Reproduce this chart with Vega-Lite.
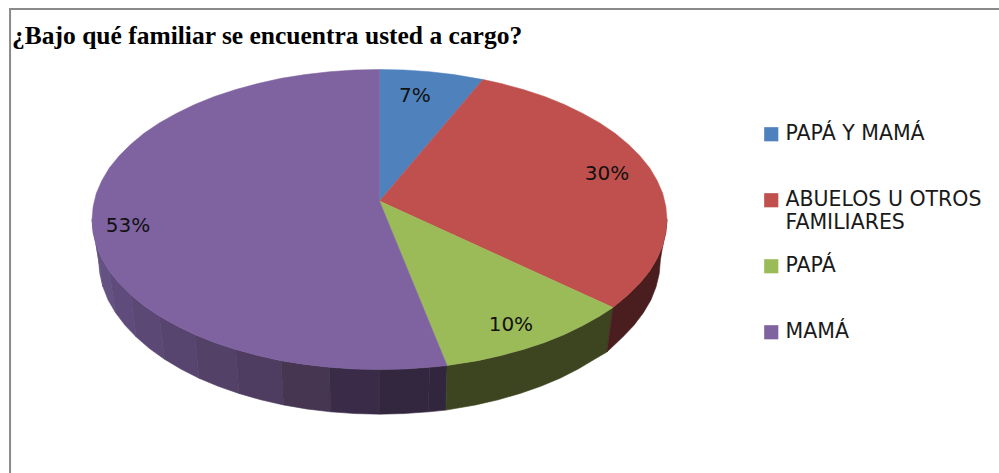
{"$schema":"https://vega.github.io/schema/vega-lite/v6.json","width":999,"height":473,"padding":0,"autosize":{"type":"none"},"background":"white","view":{"stroke":null},
"title":{"text":"¿Bajo qué familiar se encuentra usted a cargo?","anchor":"start","frame":"group","orient":"top","offset":0,"dx":12,"dy":69,"baseline":"alphabetic","font":"Liberation Serif","fontWeight":"bold","fontSize":25.5,"color":"#000000"},
"projection":{"type":"identity","reflectY":true,"scale":287.5,"translate":[379.5,219.5]},
"datasets":{
"marco":[{"type":"Feature","properties":{"nombre":"marco"},"geometry":{"type":"LineString","coordinates":[[-1.285,-0.882],[-1.285,0.732],[2.155,0.732]]}}],
"pared":[
{"type":"Feature","properties":{"tramo":"p00"},"geometry":{"type":"Polygon","coordinates":[[[-1,0],[-0.996,-0.045],[-0.985,-0.091],[-0.962,-0.234],[-0.973,-0.188],[-0.977,-0.141],[-1,0]]]}},
{"type":"Feature","properties":{"tramo":"p01"},"geometry":{"type":"Polygon","coordinates":[[[-0.985,-0.091],[-0.966,-0.135],[-0.94,-0.179],[-0.918,-0.324],[-0.944,-0.28],[-0.962,-0.234],[-0.985,-0.091]]]}},
{"type":"Feature","properties":{"tramo":"p02"},"geometry":{"type":"Polygon","coordinates":[[[-0.94,-0.179],[-0.906,-0.221],[-0.866,-0.261],[-0.846,-0.409],[-0.885,-0.368],[-0.918,-0.324],[-0.94,-0.179]]]}},
{"type":"Feature","properties":{"tramo":"p03"},"geometry":{"type":"Polygon","coordinates":[[[-0.866,-0.261],[-0.819,-0.3],[-0.766,-0.336],[-0.748,-0.486],[-0.8,-0.449],[-0.846,-0.409],[-0.866,-0.261]]]}},
{"type":"Feature","properties":{"tramo":"p04"},"geometry":{"type":"Polygon","coordinates":[[[-0.766,-0.336],[-0.707,-0.369],[-0.643,-0.4],[-0.628,-0.552],[-0.691,-0.52],[-0.748,-0.486],[-0.766,-0.336]]]}},
{"type":"Feature","properties":{"tramo":"p05"},"geometry":{"type":"Polygon","coordinates":[[[-0.643,-0.4],[-0.574,-0.428],[-0.5,-0.452],[-0.489,-0.605],[-0.561,-0.58],[-0.628,-0.552],[-0.643,-0.4]]]}},
{"type":"Feature","properties":{"tramo":"p06"},"geometry":{"type":"Polygon","coordinates":[[[-0.5,-0.452],[-0.423,-0.473],[-0.342,-0.491],[-0.334,-0.645],[-0.413,-0.627],[-0.489,-0.605],[-0.5,-0.452]]]}},
{"type":"Feature","properties":{"tramo":"p07"},"geometry":{"type":"Polygon","coordinates":[[[-0.342,-0.491],[-0.259,-0.504],[-0.174,-0.514],[-0.17,-0.669],[-0.253,-0.659],[-0.334,-0.645],[-0.342,-0.491]]]}},
{"type":"Feature","properties":{"tramo":"p08"},"geometry":{"type":"Polygon","coordinates":[[[-0.174,-0.514],[-0.087,-0.52],[0,-0.522],[0,-0.677],[-0.085,-0.675],[-0.17,-0.669],[-0.174,-0.514]]]}},
{"type":"Feature","properties":{"tramo":"p09"},"geometry":{"type":"Polygon","coordinates":[[[0,-0.522],[0.087,-0.52],[0.174,-0.514],[0.17,-0.669],[0.085,-0.675],[0,-0.677],[0,-0.522]]]}},
{"type":"Feature","properties":{"tramo":"p10"},"geometry":{"type":"Polygon","coordinates":[[[0.174,-0.514],[0.235,-0.508],[0.231,-0.663],[0.17,-0.669],[0.174,-0.514]]]}},
{"type":"Feature","properties":{"tramo":"verde"},"geometry":{"type":"Polygon","coordinates":[[[0.235,-0.508],[0.342,-0.491],[0.423,-0.473],[0.5,-0.452],[0.574,-0.428],[0.643,-0.4],[0.707,-0.369],[0.766,-0.336],[0.812,-0.306],[0.791,-0.461],[0.748,-0.486],[0.691,-0.52],[0.628,-0.552],[0.561,-0.58],[0.489,-0.605],[0.413,-0.627],[0.334,-0.645],[0.231,-0.663],[0.235,-0.508]]]}},
{"type":"Feature","properties":{"tramo":"rojo"},"geometry":{"type":"Polygon","coordinates":[[[0.812,-0.306],[0.866,-0.261],[0.906,-0.221],[0.94,-0.179],[0.966,-0.135],[0.985,-0.091],[0.996,-0.045],[1,0],[0.977,-0.141],[0.973,-0.188],[0.962,-0.234],[0.944,-0.28],[0.918,-0.324],[0.885,-0.368],[0.846,-0.409],[0.791,-0.461],[0.812,-0.306]]]}}
],
"cara":[
{"type":"Feature","properties":{"familiar":"PAPÁ Y MAMÁ","porcentaje":7},"geometry":{"type":"Polygon","coordinates":[[[0,0.064],[0,0.522],[0.087,0.52],[0.174,0.514],[0.259,0.504],[0.36,0.487],[0,0.064]]]}},
{"type":"Feature","properties":{"familiar":"ABUELOS U OTROS FAMILIARES","porcentaje":30},"geometry":{"type":"Polygon","coordinates":[[[0,0.064],[0.36,0.487],[0.423,0.473],[0.5,0.452],[0.574,0.428],[0.643,0.4],[0.707,0.369],[0.766,0.336],[0.819,0.3],[0.866,0.261],[0.906,0.221],[0.94,0.179],[0.966,0.135],[0.985,0.091],[0.996,0.045],[1,0],[0.996,-0.045],[0.985,-0.091],[0.966,-0.135],[0.94,-0.179],[0.906,-0.221],[0.866,-0.261],[0.812,-0.306],[0,0.064]]]}},
{"type":"Feature","properties":{"familiar":"PAPÁ","porcentaje":10},"geometry":{"type":"Polygon","coordinates":[[[0,0.064],[0.812,-0.306],[0.766,-0.336],[0.707,-0.369],[0.643,-0.4],[0.574,-0.428],[0.5,-0.452],[0.423,-0.473],[0.342,-0.491],[0.235,-0.508],[0,0.064]]]}},
{"type":"Feature","properties":{"familiar":"MAMÁ","porcentaje":53},"geometry":{"type":"Polygon","coordinates":[[[0,0.064],[0.235,-0.508],[0.174,-0.514],[0.087,-0.52],[0,-0.522],[-0.087,-0.52],[-0.174,-0.514],[-0.259,-0.504],[-0.342,-0.491],[-0.423,-0.473],[-0.5,-0.452],[-0.574,-0.428],[-0.643,-0.4],[-0.707,-0.369],[-0.766,-0.336],[-0.819,-0.3],[-0.866,-0.261],[-0.906,-0.221],[-0.94,-0.179],[-0.966,-0.135],[-0.985,-0.091],[-0.996,-0.045],[-1,0],[-0.996,0.045],[-0.985,0.091],[-0.966,0.135],[-0.94,0.179],[-0.906,0.221],[-0.866,0.261],[-0.819,0.3],[-0.766,0.336],[-0.707,0.369],[-0.643,0.4],[-0.574,0.428],[-0.5,0.452],[-0.423,0.473],[-0.342,0.491],[-0.259,0.504],[-0.174,0.514],[-0.087,0.52],[0,0.522],[0,0.064]]]}}
],
"etiquetas":[
{"familiar":"PAPÁ Y MAMÁ","etiqueta":"7%","lon":0.123,"lat":0.43},
{"familiar":"ABUELOS U OTROS FAMILIARES","etiqueta":"30%","lon":0.791,"lat":0.158},
{"familiar":"PAPÁ","etiqueta":"10%","lon":0.457,"lat":-0.367},
{"familiar":"MAMÁ","etiqueta":"53%","lon":-0.875,"lat":-0.023}
]},
"layer":[
{"data":{"name":"marco"},"mark":{"type":"geoshape","filled":false,"stroke":"#8a8a8a","strokeWidth":2}},
{"data":{"name":"pared"},"mark":{"type":"geoshape","strokeWidth":0.6},
"encoding":{
"color":{"field":"properties.tramo","type":"nominal","legend":null,"scale":{"domain":["p00","p01","p02","p03","p04","p05","p06","p07","p08","p09","p10","verde","rojo"],"range":["#665b8b","#635282","#5f4c7c","#5b4875","#58456f","#534168","#4f3c61","#463652","#3a2c48","#33273f","#32263f","#3c4420","#4a1e1e"]}},
"stroke":{"field":"properties.tramo","type":"nominal","legend":null,"scale":{"domain":["p00","p01","p02","p03","p04","p05","p06","p07","p08","p09","p10","verde","rojo"],"range":["#665b8b","#635282","#5f4c7c","#5b4875","#58456f","#534168","#4f3c61","#463652","#3a2c48","#33273f","#32263f","#3c4420","#4a1e1e"]}}}},
{"data":{"name":"cara"},"mark":{"type":"geoshape","strokeWidth":0.5},
"encoding":{"color":{"field":"properties.familiar","type":"nominal","sort":null,"scale":{"domain":["PAPÁ Y MAMÁ","ABUELOS U OTROS FAMILIARES","PAPÁ","MAMÁ"],"range":["#4f81bd","#c0504d","#9bbb59","#7f63a1"]},
"legend":{"title":null,"orient":"none","legendX":761,"legendY":124,"symbolType":"square","symbolSize":200,"symbolStrokeWidth":0,"symbolOpacity":1,"labelFont":"DejaVu Sans","labelFontSize":20.5,"labelColor":"#1a1a1a","labelOffset":4,"labelLimit":240,"gridAlign":"all","rowPadding":22,"labelExpr":"datum.label == 'ABUELOS U OTROS FAMILIARES' ? ['ABUELOS U OTROS','FAMILIARES'] : datum.label"}},
"stroke":{"field":"properties.familiar","type":"nominal","legend":null,"sort":null,"scale":{"domain":["PAPÁ Y MAMÁ","ABUELOS U OTROS FAMILIARES","PAPÁ","MAMÁ"],"range":["#4f81bd","#c0504d","#9bbb59","#7f63a1"]}}}},
{"data":{"name":"etiquetas"},"mark":{"type":"text","font":"DejaVu Sans","fontSize":20,"color":"#111111","align":"center","baseline":"middle"},
"encoding":{"longitude":{"field":"lon","type":"quantitative"},"latitude":{"field":"lat","type":"quantitative"},"text":{"field":"etiqueta","type":"nominal"}}}
],
"resolve":{"scale":{"color":"independent","stroke":"independent"}}}
